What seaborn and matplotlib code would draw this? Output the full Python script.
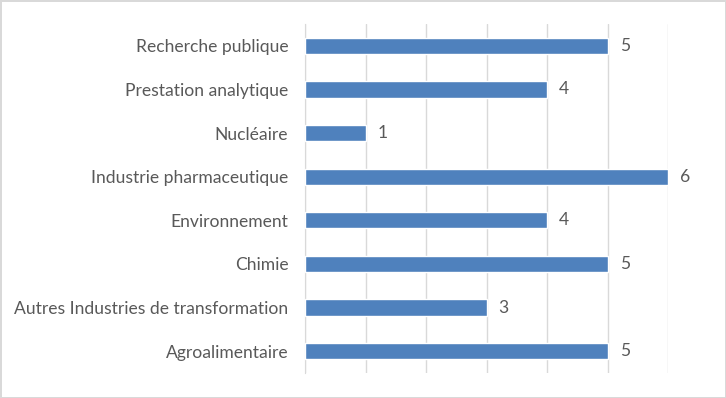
import matplotlib
matplotlib.use("Agg")
import matplotlib.pyplot as plt
import seaborn as sns
import pandas as pd

secteurs = ["Recherche publique", "Prestation analytique", "Nucléaire",
            "Industrie pharmaceutique", "Environnement", "Chimie",
            "Autres Industries de transformation", "Agroalimentaire"]
nombre = [5, 4, 1, 6, 4, 5, 3, 5]

df = pd.DataFrame({"Secteur": secteurs, "Nombre": nombre})

sns.set_style("white")
plt.rcParams["font.family"] = ["Lato", "DejaVu Sans"]
gris = "#595959"

fig = plt.figure(figsize=(7.26, 3.98), dpi=100)
fig.patch.set_edgecolor("#D9D9D9")
fig.patch.set_linewidth(2)
ax = fig.add_axes([305 / 726, 25 / 398, 363 / 726, 349 / 398])

sns.barplot(data=df, y="Secteur", x="Nombre", orient="h", color="#4F81BD",
            saturation=1, width=0.37, ax=ax, zorder=3)

ax.set_xlim(0, 6)
ax.set_xticks(range(0, 7))
ax.set_xticklabels([])
ax.tick_params(axis="x", length=0)
ax.tick_params(axis="y", length=0, labelsize=12.6, labelcolor=gris, pad=12)
ax.grid(axis="x", color="#D9D9D9", linewidth=1, zorder=0)
ax.set_xlabel("")
ax.set_ylabel("")
for s in ["top", "right", "bottom"]:
    ax.spines[s].set_visible(False)
ax.spines["left"].set_color("#D9D9D9")

for i, v in enumerate(nombre):
    ax.text(v + 0.2, i, str(v), va="center", ha="left", fontsize=12.6, color=gris)

fig.savefig("out.png", dpi=100)
